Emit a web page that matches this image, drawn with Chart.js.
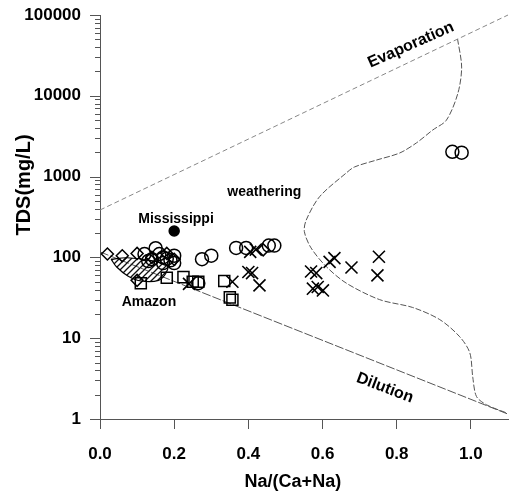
<!DOCTYPE html>
<html>
<head>
<meta charset="utf-8">
<script src="https://cdn.jsdelivr.net/npm/chart.js@4.4.1/dist/chart.umd.min.js"></script>
<style>
  body { margin: 0; background: #fff; }
  #wrap { width: 509px; height: 492px; }
</style>
</head>
<body>
<div id="wrap"><canvas id="gibbs"></canvas></div>
<script>
// tick labels
const xTicks = [0.0, 0.2, 0.4, 0.6, 0.8, 1.0];
const yTicks = [1, 10, 100, 1000, 10000, 100000];

// samples: [Na/(Ca+Na), TDS]
const diamonds = [[0.02, 110], [0.06, 105], [0.10, 112], [0.14, 100], [0.18, 112], [0.10, 52], [0.44, 124], [0.20, 95]];
const circles = [[0.12, 110], [0.15, 130], [0.14, 95], [0.17, 100], [0.19, 92], [0.20, 85], [0.17, 85], [0.13, 90],
  [0.16, 110], [0.18, 96], [0.20, 105], [0.275, 95], [0.30, 105], [0.367, 131], [0.394, 131], [0.455, 140],
  [0.47, 140], [0.95, 2030], [0.975, 1980], [0.265, 48]];
const squares = [[0.11, 48], [0.18, 56], [0.225, 57], [0.25, 50], [0.265, 50], [0.335, 51], [0.35, 32], [0.357, 30]];
const crosses = [[0.405, 117], [0.42, 125], [0.40, 66], [0.41, 64], [0.43, 45], [0.357, 50], [0.569, 67], [0.583, 64],
  [0.619, 88], [0.632, 98], [0.574, 41], [0.587, 43], [0.601, 39], [0.678, 75], [0.752, 102], [0.748, 60], [0.24, 47]];
const mississippi = [[0.20, 212]];

// Amazon field (hatched)
const amazonField = [[0.030, 95], [0.073, 99], [0.146, 90], [0.181, 80], [0.178, 64], [0.158, 52], [0.111, 51],
  [0.075, 59], [0.045, 76], [0.030, 95]];

// boundary lines
const evaporation = [[0.0, 386], [1.1, 100000]];
const dilution = [[0.0, 117], [1.1, 1.15]];
const boundary = [[0.964, 50500], [0.975, 22700], [0.965, 10800], [0.934, 5000], [0.897, 3770], [0.853, 2610],
  [0.808, 1960], [0.745, 1600], [0.686, 1315], [0.664, 1110], [0.592, 564], [0.556, 290], [0.551, 208],
  [0.569, 131], [0.610, 77], [0.664, 48], [0.754, 30], [0.843, 24], [0.916, 17], [0.970, 10.4], [0.997, 6.6],
  [1.005, 3.3], [1.015, 1.9], [1.042, 1.5], [1.096, 1.19]];

// text labels: [text, x, TDS, font, angle(deg)]
const notes = [
  ['Evaporation', 0.838, 42500, 'bold 16px "Liberation Sans", Arial', -24],
  ['Dilution', 0.768, 2.42, 'bold 16px "Liberation Sans", Arial', 21],
  ['weathering', 0.443, 645, 'bold 14px "Liberation Sans", Arial', 0],
  ['Mississippi', 0.205, 299, 'bold 14px "Liberation Sans", Arial', 0],
  ['Amazon', 0.132, 28, 'bold 14px "Liberation Sans", Arial', 0]
];

const pts = arr => arr.map(p => ({ x: p[0], y: p[1] }));

function hatch() {
  const c = document.createElement('canvas');
  c.width = 6; c.height = 6;
  const g = c.getContext('2d');
  g.strokeStyle = '#111';
  g.lineWidth = 1.3;
  g.beginPath();
  g.moveTo(0, 6); g.lineTo(6, 0);
  g.moveTo(-1, 1); g.lineTo(1, -1);
  g.moveTo(5, 7); g.lineTo(7, 5);
  g.stroke();
  return g.createPattern(c, 'repeat');
}

const decor = {
  id: 'decor',
  afterDraw(chart) {
    const { ctx, scales: { x, y } } = chart;
    ctx.save();
    // y tick marks, major and minor
    ctx.strokeStyle = '#555';
    ctx.lineWidth = 1;
    yTicks.forEach((v, i) => {
      const py = Math.round(y.getPixelForValue(v)) + 0.5;
      ctx.beginPath(); ctx.moveTo(x.left - 10, py); ctx.lineTo(x.left, py); ctx.stroke();
      if (i < yTicks.length - 1) {
        for (let k = 2; k <= 9; k++) {
          const my = Math.round(y.getPixelForValue(v * k)) + 0.5;
          ctx.beginPath(); ctx.moveTo(x.left - 5, my); ctx.lineTo(x.left, my); ctx.stroke();
        }
      }
    });
    // annotations
    ctx.fillStyle = '#000';
    ctx.textAlign = 'center';
    ctx.textBaseline = 'middle';
    notes.forEach(([t, nx, ny, font, ang]) => {
      ctx.save();
      ctx.translate(x.getPixelForValue(nx), y.getPixelForValue(ny));
      ctx.rotate(ang * Math.PI / 180);
      ctx.font = font;
      ctx.fillText(t, 0, 0);
      ctx.restore();
    });
    // axis titles
    ctx.font = 'bold 18px "Liberation Sans", Arial';
    ctx.fillText('Na/(Ca+Na)', x.getPixelForValue(0.52), 482);
    ctx.save();
    ctx.translate(24, 185);
    ctx.rotate(-Math.PI / 2);
    ctx.font = 'bold 20px "Liberation Sans", Arial';
    ctx.fillText('TDS(mg/L)', 0, 0);
    ctx.restore();
    ctx.restore();
  }
};

const marker = (label, data, style, r, extra) => Object.assign({
  label, data: pts(data), pointStyle: style, pointRadius: r, pointHoverRadius: r,
  pointBorderColor: '#000', pointBackgroundColor: 'rgba(0,0,0,0)', pointBorderWidth: 1.5, showLine: false
}, extra || {});

const guide = (label, data, color, dash, width, tension) => ({
  label, data: pts(data), showLine: true, pointRadius: 0, borderColor: color, borderDash: dash,
  borderWidth: width, tension: tension || 0, fill: false
});

const tickFont = { family: '"Liberation Sans", Arial', size: 17, weight: 'bold' };

new Chart(document.getElementById('gibbs'), {
  type: 'scatter',
  data: {
    datasets: [
      marker('Mississippi', mississippi, 'circle', 5, { pointBackgroundColor: '#000' }),
      marker('circles', circles, 'circle', 6.5),
      marker('squares', squares, 'rect', 7.8),
      marker('diamonds', diamonds, 'rectRot', 6),
      marker('crosses', crosses, 'crossRot', 8.5, { pointBorderWidth: 1.6 }),
      {
        label: 'Amazon', data: pts(amazonField), showLine: true, pointRadius: 0,
        borderColor: '#000', borderWidth: 1.2, backgroundColor: hatch(), fill: 'shape', tension: 0.35
      },
      guide('Evaporation', evaporation, '#888', [5, 3], 1),
      guide('Dilution', dilution, '#555', [9, 2], 1),
      guide('boundary', boundary, '#555', [6, 2], 1, 0.3)
    ]
  },
  plugins: [decor],
  options: {
    responsive: true,
    maintainAspectRatio: false,
    animation: false,
    clip: false,
    layout: { autoPadding: false, padding: { top: 15, right: 1, left: 0, bottom: 0 } },
    plugins: { legend: { display: false }, tooltip: { enabled: false } },
    scales: {
      x: {
        type: 'linear', min: 0, max: 1.1,
        afterBuildTicks: s => { s.ticks = xTicks.map(v => ({ value: v })); },
        afterFit: s => { s.height = 73; s.paddingLeft = 0; s.paddingRight = 0; },
        grid: { drawOnChartArea: false, tickLength: 10, color: '#555' },
        border: { color: '#555', width: 1 },
        ticks: { color: '#000', padding: 15, font: tickFont, callback: v => v.toFixed(1) }
      },
      y: {
        type: 'logarithmic', min: 1, max: 100000,
        afterBuildTicks: s => { s.ticks = yTicks.map(v => ({ value: v })); },
        afterFit: s => { s.width = 100; s.paddingTop = 0; s.paddingBottom = 0; },
        grid: { display: false },
        border: { color: '#555', width: 1 },
        ticks: { color: '#000', padding: 11, font: tickFont, callback: v => String(v) }
      }
    }
  }
});
</script>
</body>
</html>
